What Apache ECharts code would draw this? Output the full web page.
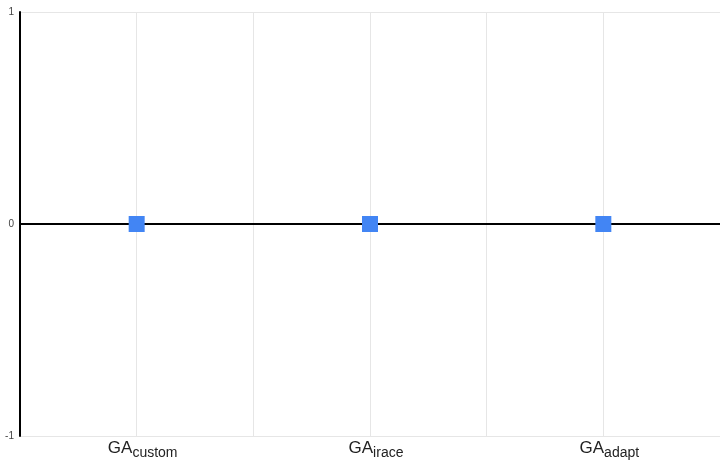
<!DOCTYPE html>
<html>
<head>
<meta charset="utf-8">
<script src="https://cdn.jsdelivr.net/npm/echarts@6/dist/echarts.min.js"></script>
<style>
  html, body { margin: 0; padding: 0; background: #fff; }
  #chart { width: 720px; height: 460px; }
</style>
</head>
<body>
<div id="chart"></div>
<script>
// Algorithm variants: base name plus subscript
const categories = ['GA', 'GA', 'GA'];
const subscripts = ['custom', 'irace', 'adapt'];
const values = [0, 0, 0];
const yTicks = [-1, 0, 1];

const chart = echarts.init(document.getElementById('chart'));

const points = values.map((v, i) => [i, v]);

chart.setOption({
  animation: false,
  grid: { left: 20, right: 0, top: 12, bottom: 24, containLabel: false, outerBoundsMode: 'none' },
  xAxis: {
    type: 'value',
    min: -0.5,
    max: categories.length - 0.5,
    interval: 0.5,
    axisLine: { show: false },
    axisTick: { show: false },
    splitLine: { show: true, lineStyle: { color: '#e6e6e6', width: 1 } },
    axisLabel: {
      margin: 2,
      padding: [0, 0, 0, 12],
      showMinLabel: true,
      showMaxLabel: true,
      formatter: function (v) {
        const i = Math.round(v);
        if (Math.abs(v - i) > 1e-6 || i < 0 || i >= categories.length) return '';
        return '{a|' + categories[i] + '}{b|' + subscripts[i] + '}';
      },
      rich: {
        a: { fontFamily: 'Arial, Liberation Sans, sans-serif', fontSize: 17, color: '#222', verticalAlign: 'bottom', lineHeight: 19 },
        b: { fontFamily: 'Arial, Liberation Sans, sans-serif', fontSize: 14, color: '#222', verticalAlign: 'bottom', lineHeight: 19, padding: [0, 0, -3, 0] }
      }
    }
  },
  yAxis: {
    type: 'value',
    min: yTicks[0],
    max: yTicks[yTicks.length - 1],
    interval: 1,
    axisLine: { show: true, onZero: false, lineStyle: { color: '#000', width: 2 } },
    axisTick: { show: false },
    splitLine: { show: true, lineStyle: { color: '#e6e6e6', width: 1 } },
    axisLabel: {
      margin: 6,
      fontFamily: 'Arial, Liberation Sans, sans-serif',
      fontSize: 10,
      color: '#444'
    }
  },
  series: [{
    type: 'scatter',
    data: points,
    symbol: 'rect',
    symbolSize: 16,
    itemStyle: { color: '#4285f4', opacity: 1 },
    z: 5,
    markLine: {
      silent: true,
      symbol: ['none', 'none'],
      label: { show: false },
      lineStyle: { color: '#000', width: 2, type: 'solid' },
      data: [{ yAxis: 0 }],
      z: 3
    }
  }]
});
</script>
</body>
</html>
